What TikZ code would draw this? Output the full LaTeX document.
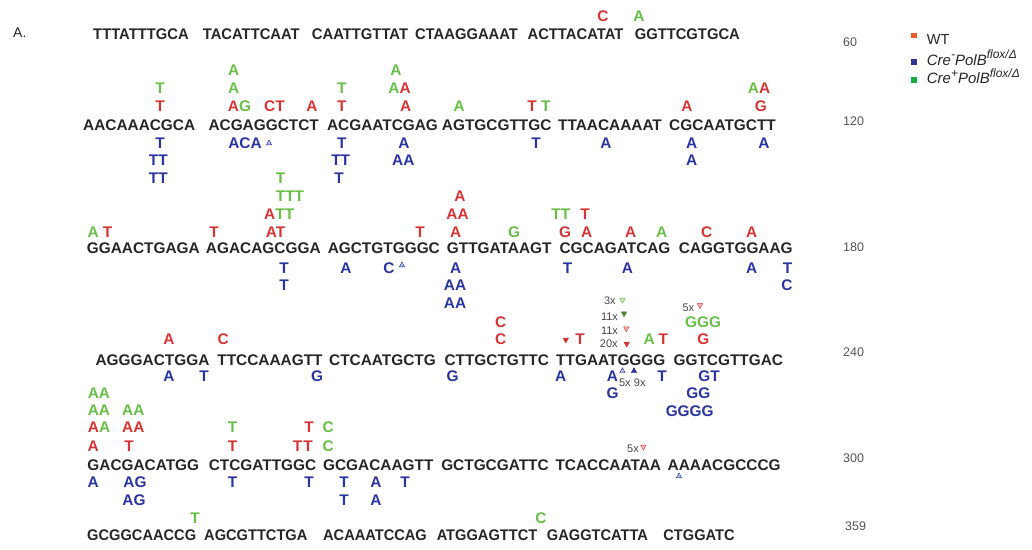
\documentclass[tikz,border=0pt]{standalone}
\usepackage{fontspec}
\setmainfont{Liberation Sans}

\definecolor{seqc}{RGB}{38,38,38}
\definecolor{mred}{RGB}{214,52,52}
\definecolor{mgrn}{RGB}{104,190,72}
\definecolor{mblu}{RGB}{42,52,160}
\definecolor{numc}{RGB}{85,85,85}
\definecolor{cntc}{RGB}{70,70,70}
\definecolor{lgo}{RGB}{232,92,44}
\definecolor{lgb}{RGB}{52,52,150}
\definecolor{lgg}{RGB}{24,168,72}

\tikzset{
  seqtxt/.style={anchor=base, inner sep=0pt, outer sep=0pt, text=seqc,
    font=\fontsize{15.4}{18}\selectfont\bfseries},
  snp/.style={anchor=base, inner sep=0pt, outer sep=0pt,
    font=\fontsize{15.4}{18}\selectfont\bfseries},
  mutr/.style={snp, text=mred},
  mutb/.style={snp, text=mblu},
  mutg/.style={snp, text=mgrn},
  cnt/.style={anchor=base, inner sep=0pt, text=cntc, font=\fontsize{11}{13}\selectfont},
  posnum/.style={anchor=base west, inner sep=0pt, text=numc, font=\fontsize{12.5}{14}\selectfont},
  legtxt/.style={anchor=base west, inner sep=0pt, text=black!85, font=\fontsize{14}{16}\selectfont},
  insmark/.style={line width=0.4pt, line join=round},
}

% every text item gets its own numbered node name
\newcount\itemno
\newcommand\mk[4]{\global\advance\itemno by 1\relax
  \edef\next{\noexpand\node[#1] (t\the\itemno) at (#2,#3) {\unexpanded{#4}};}\next}
% a sequence block set slightly narrower
\newcommand\sqn[4]{\mk{seqtxt}{#2}{#3}{\scalebox{#1}[1]{#4}}}
% small insertion markers: pointing down (above the line) or up (below it)
\newcommand\tdn[4]{\filldraw[insmark, draw=#1, fill=#2] ({#3-2.7},{#4-2.4}) -- ({#3+2.7},{#4-2.4}) -- (#3,{#4+2.6}) -- cycle;}
\newcommand\tup[4]{\filldraw[insmark, draw=#1, fill=#2] ({#3-2.7},{#4+2.4}) -- ({#3+2.7},{#4+2.4}) -- (#3,{#4-2.6}) -- cycle;}
\newcommand\rc[1]{\textcolor{mred}{#1}}
\newcommand\gc[1]{\textcolor{mgrn}{#1}}
% raised legend index
\newcommand\legsup[1]{\raisebox{0.42em}{\fontsize{12}{13}\selectfont #1}}

\begin{document}
\begin{tikzpicture}[x=1pt, y=-1pt]
\useasboundingbox (0,0) rectangle (1032,549);
\fill[white] (0,0) rectangle (1032,549);

\node[legtxt] (panel) at (13,37) {A.};

% ---------- legend ----------
\fill[lgo] (910.7,32.7) rectangle (917.3,38.3);
\fill[lgb] (910.7,59) rectangle (917.3,65);
\fill[lgg] (910.7,77.3) rectangle (917.3,83.3);
\node[legtxt, font=\fontsize{14.5}{16}\selectfont] (lwt) at (926.7,44) {WT};
\node[legtxt, font=\fontsize{15}{16}\selectfont\itshape] (lcm) at (926.7,65) {Cre\legsup{-}PolB\legsup{flox/Δ}};
\node[legtxt, font=\fontsize{15}{16}\selectfont\itshape] (lcp) at (926.7,83.3) {Cre\legsup{+}PolB\legsup{flox/Δ}};

% ---------- position numbers ----------
\node[posnum] (n60)  at (843,46.7) {60};
\node[posnum] (n120) at (843,125) {120};
\node[posnum] (n180) at (843,251) {180};
\node[posnum] (n240) at (843,356) {240};
\node[posnum] (n300) at (843,462) {300};
\node[posnum] (n359) at (845,530) {359};

% ---------- line 1 ----------
\sqn{0.96}{141}{39}{TTTATTTGCA}
\sqn{0.96}{251.3}{39}{TACATTCAAT}
\sqn{0.96}{360}{39}{CAATTGTTAT}
\sqn{0.96}{466.5}{39}{CTAAGGAAAT}
\sqn{0.96}{575.5}{39}{ACTTACATAT}
\sqn{0.96}{687.3}{39}{GGTTCGTGCA}
\mk{mutr}{603}{21.7}{C}
\mk{mutg}{639}{21.7}{A}

% ---------- line 2 ----------
\mk{seqtxt}{139.2}{130}{AACAAACGCA}
\mk{seqtxt}{263.7}{130}{ACGAGGCTCT}
\mk{seqtxt}{382.5}{130}{ACGAATCGAG}
\mk{seqtxt}{496.7}{130}{AGTGCGTTGC}
\mk{seqtxt}{610}{130}{TTAACAAAAT}
\mk{seqtxt}{722.5}{130}{CGCAATGCTT}
% above
\mk{mutr}{160}{111}{T}
\mk{snp}{239.5}{111}{\rc{A}\gc{G}}
\mk{mutr}{274.5}{111}{CT}
\mk{mutr}{312}{111}{A}
\mk{mutr}{341.7}{111}{T}
\mk{mutr}{405.7}{111}{A}
\mk{mutg}{459.2}{111}{A}
\mk{mutr}{532}{111}{T}
\mk{mutg}{545.8}{111}{T}
\mk{mutr}{687}{111}{A}
\mk{mutr}{760.8}{111}{G}
\mk{mutg}{160}{93.5}{T}
\mk{mutg}{233.7}{93.5}{A}
\mk{mutg}{341.7}{93.5}{T}
\mk{snp}{399.5}{93.5}{\gc{A}\rc{A}}
\mk{snp}{759}{93.5}{\gc{A}\rc{A}}
\mk{mutg}{233.7}{75}{A}
\mk{mutg}{396}{75}{A}
% below
\mk{mutb}{160}{148}{T}
\mk{mutb}{245}{148}{ACA}
\tup{mblu}{mblu!35!white}{269}{142.5}
\mk{mutb}{341.7}{148}{T}
\mk{mutb}{404}{148}{A}
\mk{mutb}{536}{148}{T}
\mk{mutb}{605.8}{148}{A}
\mk{mutb}{691.7}{148}{A}
\mk{mutb}{764}{148}{A}
\mk{mutb}{158.3}{165.5}{TT}
\mk{mutb}{340.7}{165.5}{TT}
\mk{mutb}{403.3}{165.5}{AA}
\mk{mutb}{691.7}{165.5}{A}
\mk{mutb}{158.3}{183.3}{TT}
\mk{mutb}{339}{183.3}{T}

% ---------- line 3 ----------
\mk{seqtxt}{143.3}{253}{GGAACTGAGA}
\mk{seqtxt}{263.3}{253}{AGACAGCGGA}
\mk{seqtxt}{383.8}{253}{AGCTGTGGGC}
\mk{seqtxt}{499.2}{253}{GTTGATAAGT}
\mk{seqtxt}{615}{253}{CGCAGATCAG}
\mk{seqtxt}{735.8}{253}{CAGGTGGAAG}
% above
\mk{mutg}{93.3}{237}{A}
\mk{mutr}{107.5}{237}{T}
\mk{mutr}{214}{237}{T}
\mk{mutr}{275.5}{237}{AT}
\mk{mutr}{420}{237}{T}
\mk{mutr}{455.8}{237}{A}
\mk{mutg}{514}{237}{G}
\mk{mutr}{565}{237}{G}
\mk{mutr}{586.7}{237}{A}
\mk{mutr}{630.8}{237}{A}
\mk{mutg}{661.7}{237}{A}
\mk{mutr}{706.7}{237}{C}
\mk{mutr}{751.7}{237}{A}
\mk{snp}{279.2}{219.5}{\rc{A}\gc{TT}}
\mk{mutr}{457.5}{219.5}{AA}
\mk{mutg}{560.8}{219.5}{TT}
\mk{mutr}{585}{219.5}{T}
\mk{mutg}{290}{201.7}{TTT}
\mk{mutr}{460}{201.7}{A}
\mk{mutg}{280.5}{183.5}{T}
% below
\mk{mutb}{284}{273}{T}
\mk{mutb}{346}{273}{A}
\mk{mutb}{389}{273}{C}
\tup{mblu}{mblu!35!white}{402}{264.5}
\mk{mutb}{455.8}{273}{A}
\mk{mutb}{567.5}{273}{T}
\mk{mutb}{627.5}{273}{A}
\mk{mutb}{751.7}{273}{A}
\mk{mutb}{787.5}{273}{T}
\mk{mutb}{284}{290.5}{T}
\mk{mutb}{455}{290.5}{AA}
\mk{mutb}{787}{290.5}{C}
\mk{mutb}{455}{308}{AA}

% ---------- line 4 ----------
\mk{seqtxt}{152.5}{365}{AGGGACTGGA}
\mk{seqtxt}{270}{365}{TTCCAAAGTT}
\mk{seqtxt}{382.5}{365}{CTCAATGCTG}
\mk{seqtxt}{496.7}{365}{CTTGCTGTTC}
\mk{seqtxt}{610.8}{365}{TTGAATGGGG}
\mk{seqtxt}{728.3}{365}{GGTCGTTGAC}
% above
\mk{mutr}{169}{344}{A}
\mk{mutr}{223.3}{344}{C}
\mk{mutr}{500.8}{344}{C}
\tdn{mred}{mred}{565.8}{340.5}
\mk{mutr}{580}{344}{T}
\mk{cnt}{608.8}{347}{20x}
\tdn{mred}{mred}{626.7}{344.5}
\mk{mutg}{649.2}{344}{A}
\mk{mutr}{663.3}{344}{T}
\mk{mutr}{703.3}{344}{G}
\mk{mutr}{500.8}{327.3}{C}
\mk{cnt}{609.5}{334}{11x}
\tdn{mred}{mred!35!white}{626.3}{329.2}
\mk{mutg}{703}{327.3}{GGG}
\mk{cnt}{609.5}{320}{11x}
\tdn{mgrn!70!black}{mgrn!70!black}{624}{314.2}
\mk{cnt}{609.8}{304}{3x}
\tdn{mgrn}{mgrn!35!white}{622.5}{300.5}
\mk{cnt}{688.3}{311.7}{5x}
\tdn{mred}{mred!35!white}{700}{306}
% below
\mk{mutb}{169}{381.7}{A}
\mk{mutb}{204}{381.7}{T}
\mk{mutb}{317}{381.7}{G}
\mk{mutb}{452.5}{381.7}{G}
\mk{mutb}{560.8}{381.7}{A}
\mk{mutb}{612.5}{381.7}{A}
\tup{mblu}{mblu!35!white}{622.5}{370.3}
\tup{mblu}{mblu}{634}{370.3}
\mk{cnt}{624.8}{386}{5x}
\mk{cnt}{639.7}{386}{9x}
\mk{mutb}{662}{381.7}{T}
\mk{mutb}{709}{381.7}{GT}
\mk{mutb}{612.5}{398.5}{G}
\mk{mutb}{698.3}{398.5}{GG}
\mk{mutb}{689.7}{416}{GGGG}

% ---------- line 5 ----------
\mk{seqtxt}{143.3}{470}{GACGACATGG}
\mk{seqtxt}{262.5}{470}{CTCGATTGGC}
\mk{seqtxt}{378.3}{470}{GCGACAAGTT}
\mk{seqtxt}{495}{470}{GCTGCGATTC}
\mk{seqtxt}{608.3}{470}{TCACCAATAA}
\mk{seqtxt}{724.2}{470}{AAAACGCCCG}
% above
\mk{mutr}{93.3}{451}{A}
\mk{mutr}{129}{451}{T}
\mk{mutr}{232.5}{451}{T}
\mk{mutr}{297.5}{451}{T}
\mk{mutr}{308}{451}{T}
\mk{mutg}{328.3}{451}{C}
\mk{snp}{99}{432}{\rc{A}\gc{A}}
\mk{mutr}{133.3}{432}{AA}
\mk{mutg}{232.5}{432}{T}
\mk{mutr}{309}{432}{T}
\mk{mutg}{328.3}{432}{C}
\mk{mutg}{99}{415.7}{AA}
\mk{mutg}{133.3}{415.7}{AA}
\mk{mutg}{99}{398.3}{AA}
\mk{cnt}{633}{452}{5x}
\tdn{mred}{mred!35!white}{643.3}{447.5}
% below
\mk{mutb}{93.3}{487.7}{A}
\mk{mutb}{135}{487.7}{AG}
\mk{mutb}{232.5}{487.7}{T}
\mk{mutb}{309}{487.7}{T}
\mk{mutb}{344}{487.7}{T}
\mk{mutb}{376}{487.7}{A}
\mk{mutb}{405}{487.7}{T}
\tup{mblu}{mblu!35!white}{679}{475.5}
\mk{mutb}{134}{505.7}{AG}
\mk{mutb}{344}{505.7}{T}
\mk{mutb}{376}{505.7}{A}

% ---------- line 6 ----------
\sqn{0.95}{141.7}{540.7}{GCGGCAACCG}
\sqn{0.95}{255.8}{540.7}{AGCGTTCTGA}
\sqn{0.95}{375}{540.7}{ACAAATCCAG}
\sqn{0.95}{487}{540.7}{ATGGAGTTCT}
\sqn{0.95}{597.5}{540.7}{GAGGTCATTA}
\sqn{0.95}{699}{540.7}{CTGGATC}
\mk{mutg}{195}{523}{T}
\mk{mutg}{541}{523}{C}
\end{tikzpicture}
\end{document}
